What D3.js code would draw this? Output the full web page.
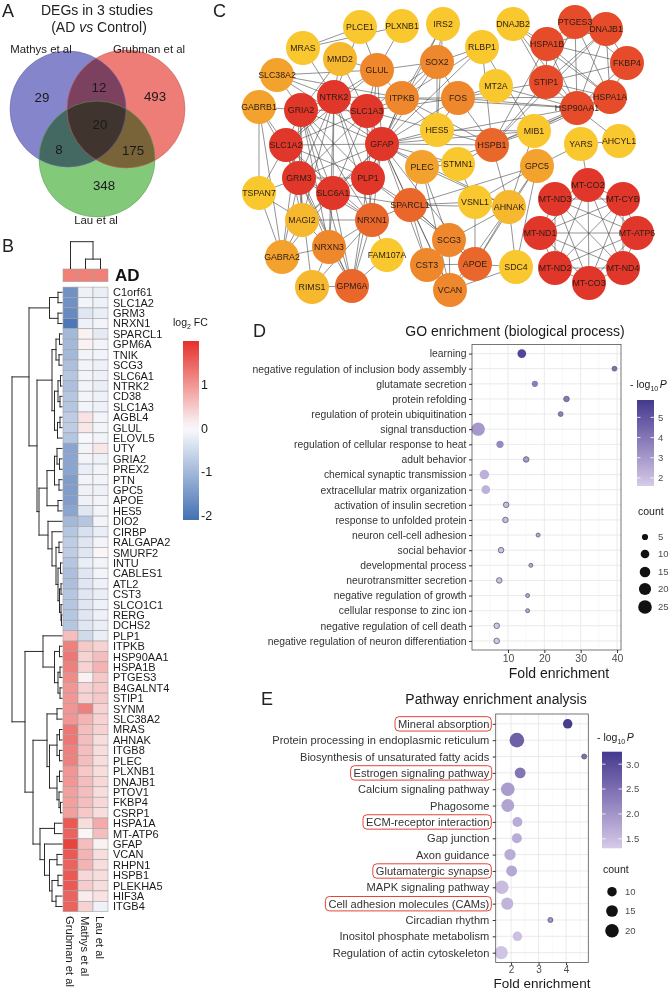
<!DOCTYPE html>
<html>
<head>
<meta charset="utf-8">
<title>DEGs in 3 studies</title>
<script src="https://cdn.jsdelivr.net/npm/d3@7/dist/d3.min.js"></script>
<style>
  body { margin: 0; background: #fff; }
  svg { display: block; }
</style>
</head>
<body>
<script>
// ---------- A: venn ----------
const vennSets = ['Mathys et al', 'Grubman et al', 'Lau et al'];
// M only, M&G, G only, all, M&L, G&L, L only
const vennCounts = [29, 12, 493, 20, 8, 175, 348];

// ---------- B: heatmap ----------
const studies = ['Grubman et al', 'Mathys et al', 'Lau et al'];
const genes = ['C1orf61','SLC1A2','GRM3','NRXN1','SPARCL1','GPM6A','TNIK','SCG3','SLC6A1','NTRK2',
  'CD38','SLC1A3','AGBL4','GLUL','ELOVL5','UTY','GRIA2','PREX2','PTN','GPC5','APOE','HES5','DIO2',
  'CIRBP','RALGAPA2','SMURF2','INTU','CABLES1','ATL2','CST3','SLCO1C1','RERG','DCHS2','PLP1','ITPKB',
  'HSP90AA1','HSPA1B','PTGES3','B4GALNT4','STIP1','SYNM','SLC38A2','MRAS','AHNAK','ITGB8','PLEC',
  'PLXNB1','DNAJB1','PTOV1','FKBP4','CSRP1','HSPA1A','MT-ATP6','GFAP','VCAN','RHPN1','HSPB1',
  'PLEKHA5','HIF3A','ITGB4'];
const grubmanFC = [-1.6,-1.6,-1.7,-2.0,-1.0,-1.0,-1.0,-0.9,-0.8,-0.9,-0.8,-0.8,-0.7,-0.7,-0.8,
  -1.3,-1.3,-1.3,-1.4,-1.4,-1.4,-1.3,-1.0,-0.8,-0.7,-0.7,-0.8,-0.9,-0.9,-0.8,-0.8,-0.8,-0.8,
  0.6,1.2,1.3,1.2,1.1,1.0,1.0,1.0,1.0,1.3,1.3,1.2,1.2,1.0,1.0,0.9,0.9,0.9,
  1.6,1.5,1.8,1.6,1.5,1.6,1.6,1.5,1.5];
const mathysFC = [-0.15,-0.1,-0.3,-0.15,0.1,0.1,-0.1,-0.1,-0.1,-0.1,-0.1,-0.1,0.25,0.2,-0.05,
  -0.1,-0.1,-0.2,-0.1,-0.15,-0.15,-0.3,-0.8,-0.4,-0.3,-0.3,-0.2,-0.3,-0.3,-0.3,-0.3,-0.3,-0.3,
  -0.5,0.5,0.4,0.4,0.1,0.4,0.4,1.2,0.7,0.6,0.6,0.6,0.6,0.5,0.6,0.6,0.6,0.5,
  0.3,0.05,0.6,0.7,0.7,0.35,0.45,0.15,0.4];
const lauFC = [-0.2,-0.15,-0.2,-0.1,-0.25,-0.1,-0.1,-0.15,-0.15,-0.2,-0.15,-0.15,-0.1,-0.1,-0.1,
  0.2,-0.15,-0.1,-0.1,-0.15,-0.1,-0.1,-0.1,-0.2,-0.1,0.05,-0.1,-0.1,-0.15,-0.2,-0.15,-0.15,-0.2,
  -0.2,0.4,0.6,0.7,0.5,0.5,0.5,0.4,0.4,0.4,0.3,0.3,0.3,0.3,0.35,0.3,0.35,0.3,
  0.8,0.6,0.1,0.3,0.3,0.3,0.3,0.25,-0.15];
const fcTicks = [1, 0, -1, -2];

// clustering trees: node = n(height, left, right), leaves are row / column indices
const n = (h, a, b) => ({ h, kids: [a, b] });
const rowTree = n(1.0,
  n(0.66,
    n(0.25, n(0.08, 0, 1), n(0.08, 2, 3)),
    n(0.5,
      n(0.2, n(0.12, n(0.05, 4, 5), n(0.06, 6, 7)),
             n(0.15, n(0.08, n(0.03, 8, 9), n(0.04, 10, 11)), n(0.09, n(0.04, 12, 13), 14))),
      n(0.46,
        n(0.3, n(0.15, n(0.1, 15, n(0.05, 16, 17)), n(0.06, 18, 19)), n(0.08, 20, 21)),
        n(0.28, 22, n(0.2, 23, n(0.12, n(0.06, 24, 25),
          n(0.08, n(0.03, 26, 27), n(0.05, n(0.02, 28, 29), n(0.02, 30, n(0.01, 31, 32)))))))))),
  n(0.74,
    n(0.38, 33, n(0.15, n(0.05, 34, 35), n(0.08, n(0.04, 36, 37), n(0.04, 38, 39)))),
    n(0.58,
      n(0.3, n(0.1, 40, 41), n(0.25, n(0.1, n(0.05, 42, 43), n(0.05, 44, 45)),
                                     n(0.1, n(0.05, 46, 47), n(0.06, 48, n(0.03, 49, 50))))),
      n(0.44, n(0.15, 51, 52), n(0.35, 53, n(0.25, n(0.1, 54, 55), n(0.2, n(0.08, 56, 57), n(0.12, 58, 59))))))));
const colTree = n(1.0, 0, n(0.35, 1, 2));

// ---------- C: network ----------
const netNodes = ['PLCE1','PLXNB1','IRS2','DNAJB2','PTGES3','DNAJB1','MRAS','MMD2','GLUL','SOX2',
  'RLBP1','HSPA1B','FKBP4','SLC38A2','NTRK2','ITPKB','FOS','MT2A','STIP1','HSPA1A','HSP90AA1',
  'GABRB1','GRIA2','SLC1A3','HES5','MIB1','YARS','AHCYL1','SLC1A2','GFAP','HSPB1','PLEC','STMN1',
  'GPC5','GRM3','PLP1','SLC6A1','TSPAN7','MT-CO2','MT-ND3','MT-CYB','SPARCL1','VSNL1','AHNAK',
  'MAGI2','NRXN1','MT-ND1','MT-ATP6','SCG3','NRXN3','FAM107A','GABRA2','CST3','APOE','SDC4',
  'MT-ND2','MT-ND4','MT-CO3','RIMS1','GPM6A','VCAN'];
// layout coordinates (network editor units)
const netLayoutX = [130,172,213,283,345,376,73,110,147,207,252,317,397,47,104,172,228,266,316,380,347,
  29,71,137,207,304,351,389,56,152,262,192,228,307,69,138,103,29,358,325,393,180,245,279,72,142,310,
  407,219,99,157,52,197,245,286,325,393,359,82,122,220];
const netLayoutY = [27,26,24,24,22,29,48,59,70,62,47,44,63,75,97,98,98,86,82,97,108,107,110,111,130,131,
  144,141,145,144,145,167,164,166,178,178,193,193,185,199,199,205,202,207,220,220,233,233,240,247,255,
  257,265,264,267,268,268,283,287,286,290];
// hub ranking class (0 = top hub)
const netRank = [6,6,6,6,1,1,6,5,3,3,6,1,1,4,0,3,3,6,1,1,1,4,0,0,6,6,6,6,0,0,2,4,6,4,0,0,0,6,0,0,0,
  2,6,5,5,2,0,0,3,3,6,4,3,2,6,0,0,0,5,2,3];
const mtGenes = ['MT-CO2','MT-CYB','MT-ATP6','MT-ND4','MT-CO3','MT-ND2','MT-ND1','MT-ND3'];
const netLinks = [
  ['GFAP', ['GRIA2','NTRK2','SLC1A3','SLC1A2','GRM3','SLC6A1','PLP1','GLUL','ITPKB','SOX2','HES5','HSPB1',
            'PLEC','SPARCL1','NRXN1','STMN1','FOS','MMD2','SLC38A2','AHNAK','APOE','CST3','VCAN','MIB1',
            'HSP90AA1','RLBP1','IRS2','GPM6A','MAGI2']],
  ['GRIA2', ['NTRK2','SLC1A3','SLC1A2','GRM3','SLC6A1','PLP1','GABRB1','SLC38A2','MAGI2','NRXN1','NRXN3','GABRA2','GPM6A','MMD2']],
  ['NTRK2', ['SLC1A3','SLC1A2','GRM3','SLC6A1','PLP1','MMD2','GLUL','SLC38A2','ITPKB','MRAS','PLCE1','NRXN1','NRXN3','MAGI2']],
  ['SLC1A3', ['SLC1A2','GRM3','SLC6A1','PLP1','GLUL','ITPKB','SOX2','FOS','HES5']],
  ['SLC1A2', ['GRM3','SLC6A1','PLP1','GABRB1','TSPAN7','GLUL','MAGI2','NRXN1','GPM6A']],
  ['GRM3', ['SLC6A1','PLP1','MAGI2','GABRA2','NRXN1','NRXN3','RIMS1','GPM6A','TSPAN7','GABRB1']],
  ['SLC6A1', ['PLP1','NRXN1','GPM6A','SPARCL1','NRXN3','MAGI2','GABRA2']],
  ['PLP1', ['NRXN1','GPM6A','SPARCL1','SCG3','ITPKB','GLUL']],
  ['GLUL', ['PLXNB1','PLCE1','MMD2','ITPKB','SOX2','SLC38A2']],
  ['MRAS', ['PLCE1','PLXNB1']],
  ['IRS2', ['ITPKB','SOX2','HES5']],
  ['SOX2', ['RLBP1','ITPKB','HES5','FOS']],
  ['RLBP1', ['ITPKB','HSPB1','MIB1']],
  ['FOS', ['MT2A','ITPKB','HSP90AA1','HSPA1A','HSPB1','STIP1','HES5']],
  ['ITPKB', ['HSP90AA1','HSPB1','HES5','SLC38A2']],
  ['HES5', ['MIB1','HSPB1']],
  ['HSPB1', ['HSP90AA1','HSPA1B','STIP1','HSPA1A','MIB1','DNAJB1','STMN1','AHNAK','PLEC']],
  ['MIB1', ['HSP90AA1','AHNAK','HSPA1A']],
  ['HSPA1B', ['PTGES3','DNAJB1','FKBP4','STIP1','HSP90AA1','HSPA1A','DNAJB2']],
  ['PTGES3', ['DNAJB1','FKBP4','STIP1','HSP90AA1','HSPA1A']],
  ['DNAJB1', ['FKBP4','STIP1','HSP90AA1','HSPA1A']],
  ['FKBP4', ['STIP1','HSP90AA1','HSPA1A']],
  ['STIP1', ['HSP90AA1','HSPA1A','DNAJB2']],
  ['HSP90AA1', ['HSPA1A','DNAJB2','AHCYL1','MT2A']],
  ['HSPA1A', ['DNAJB2']],
  ['YARS', ['AHCYL1','GPC5','MT-CO2']],
  ['GPC5', ['AHNAK','SDC4','APOE','VSNL1']],
  ['PLEC', ['STMN1','AHNAK','SCG3','VCAN','SPARCL1']],
  ['SPARCL1', ['NRXN1','SCG3','CST3','APOE','VCAN','AHNAK','GPC5']],
  ['VSNL1', ['APOE','SPARCL1','STMN1']],
  ['AHNAK', ['APOE','VCAN','SCG3','SDC4']],
  ['SCG3', ['CST3','APOE','VCAN']],
  ['CST3', ['APOE','VCAN']],
  ['APOE', ['VCAN','SDC4']],
  ['SDC4', ['VCAN']],
  ['NRXN1', ['MAGI2','NRXN3','GPM6A','FAM107A','RIMS1']],
  ['NRXN3', ['MAGI2','GABRA2','RIMS1','GPM6A']],
  ['MAGI2', ['GABRA2','TSPAN7']],
  ['GABRA2', ['TSPAN7','GABRB1']],
  ['GPM6A', ['RIMS1','FAM107A']],
  ['TSPAN7', ['GABRB1']]
];

// ---------- D: GO enrichment ----------
const goTerms = ['learning','negative regulation of inclusion body assembly','glutamate secretion',
  'protein refolding','regulation of protein ubiquitination','signal transduction',
  'regulation of cellular response to heat','adult behavior','chemical synaptic transmission',
  'extracellular matrix organization','activation of insulin secretion','response to unfolded protein',
  'neuron cell-cell adhesion','social behavior','developmental process','neurotransmitter secretion',
  'negative regulation of growth','cellular response to zinc ion','negative regulation of cell death',
  'negative regulation of neuron differentiation'];
const goFold  = [13.8, 39.3, 17.4, 26.1, 24.5, 1.8, 7.8, 15.0, 3.5, 3.9, 9.5, 9.3, 18.3, 8.1, 16.3, 7.6, 15.4, 15.4, 6.9, 6.9];
const goCount = [10, 3, 5, 4, 3, 24, 7, 4, 12, 10, 4, 4, 2, 4, 2, 4, 2, 2, 4, 4];
const goLogP  = [5.5, 4.2, 3.8, 3.9, 3.7, 3.0, 3.4, 3.0, 2.3, 2.3, 2.0, 2.0, 2.6, 1.9, 2.6, 1.9, 2.6, 2.6, 1.7, 1.7];
const goCountKeys = [5, 10, 15, 20, 25];
const goPTicks = [2, 3, 4, 5];

// ---------- E: pathway enrichment ----------
const keggTerms = ['Mineral absorption','Protein processing in endoplasmic reticulum',
  'Biosynthesis of unsaturated fatty acids','Estrogen signaling pathway','Calcium signaling pathway',
  'Phagosome','ECM-receptor interaction','Gap junction','Axon guidance','Glutamatergic synapse',
  'MAPK signaling pathway','Cell adhesion molecules (CAMs)','Circadian rhythm',
  'Inositol phosphate metabolism','Regulation of actin cytoskeleton'];
const keggFold  = [4.06, 2.21, 4.66, 2.33, 1.88, 1.88, 2.23, 2.21, 1.96, 2.02, 1.66, 1.86, 3.43, 2.23, 1.64];
const keggCount = [10, 23, 3, 13, 20, 18, 11, 11, 14, 13, 20, 16, 3, 10, 19];
const keggLogP  = [3.2, 2.7, 2.5, 2.4, 1.9, 1.8, 1.7, 1.7, 1.7, 1.75, 1.5, 1.6, 2.0, 1.45, 1.4];
const keggBoxed = ['Mineral absorption','Estrogen signaling pathway','ECM-receptor interaction',
  'Glutamatergic synapse','Cell adhesion molecules (CAMs)'];
const keggCountKeys = [10, 15, 20];
const keggPTicks = [1.5, 2.0, 2.5, 3.0];

// =====================================================================
const FONT = '"Liberation Sans", Arial, Helvetica, sans-serif';
const svg = d3.select('body').append('svg')
  .attr('width', 671).attr('height', 991)
  .style('font-family', FONT);
svg.append('rect').attr('width', 671).attr('height', 991).attr('fill', '#fff');
const defs = svg.append('defs');

// panel letters
const letters = [['A', 2, 17], ['B', 2, 252], ['C', 213, 17], ['D', 253, 337], ['E', 261, 705]];
svg.selectAll('text.letter').data(letters).join('text').attr('class', 'letter')
  .attr('x', d => d[1]).attr('y', d => d[2]).attr('font-size', 18).attr('fill', '#222').text(d => d[0]);

// ---------------- A ----------------
const gA = svg.append('g');
gA.append('text').attr('x', 97).attr('y', 15).attr('text-anchor', 'middle').attr('font-size', 14)
  .attr('fill', '#222').text('DEGs in 3 studies');
const sub = gA.append('text').attr('x', 99).attr('y', 32).attr('text-anchor', 'middle')
  .attr('font-size', 14).attr('fill', '#222');
sub.append('tspan').text('(AD ');
sub.append('tspan').attr('font-style', 'italic').text('vs');
sub.append('tspan').text(' Control)');

const vennGeom = [
  { cx: 68, cy: 109, r: 58, fill: '#8585cc', stroke: '#6565a8', lx: 41, ly: 53 },
  { cx: 126, cy: 109, r: 59, fill: '#ee7d77', stroke: '#c8605a', lx: 149, ly: 53 },
  { cx: 97, cy: 159, r: 58, fill: '#82c97a', stroke: '#5ea056', lx: 96, ly: 224 }
];
gA.selectAll('circle.fill').data(vennGeom).join('circle').attr('class', 'fill')
  .attr('cx', d => d.cx).attr('cy', d => d.cy).attr('r', d => d.r)
  .attr('fill', d => d.fill).style('mix-blend-mode', 'multiply');
gA.selectAll('circle.edge').data(vennGeom).join('circle').attr('class', 'edge')
  .attr('cx', d => d.cx).attr('cy', d => d.cy).attr('r', d => d.r)
  .attr('fill', 'none').attr('stroke', d => d.stroke).attr('stroke-width', 0.8).attr('opacity', 0.7);
gA.selectAll('text.set').data(vennSets).join('text').attr('class', 'set')
  .attr('x', (d, i) => vennGeom[i].lx).attr('y', (d, i) => vennGeom[i].ly)
  .attr('text-anchor', 'middle').attr('font-size', 11.4).attr('fill', '#222').text(d => d);
const vennLabelPos = [[42, 102], [99, 92], [155, 101], [100, 129], [59, 154], [133, 155], [104, 190]];
gA.selectAll('text.count').data(vennCounts).join('text').attr('class', 'count')
  .attr('x', (d, i) => vennLabelPos[i][0]).attr('y', (d, i) => vennLabelPos[i][1])
  .attr('text-anchor', 'middle').attr('font-size', 13.3).attr('fill', '#1a1a1a').text(d => d);

// ---------------- B ----------------
const gB = svg.append('g');
const hmX = d3.scaleBand().domain(studies).range([63, 108]);
const hmY = d3.scaleBand().domain(genes).range([287.1, 911.7]);
const fcColor = d3.scaleLinear().domain([-2.1, 0, 2.0]).range(['#4470b2', '#fbfbfd', '#e6302a']);
const fcBySt = [grubmanFC, mathysFC, lauFC];
const cells = [];
genes.forEach((g, i) => studies.forEach((s, j) => cells.push({ g, s, v: fcBySt[j][i] })));
gB.selectAll('rect.cell').data(cells).join('rect').attr('class', 'cell')
  .attr('x', d => hmX(d.s)).attr('y', d => hmY(d.g))
  .attr('width', hmX.bandwidth()).attr('height', hmY.bandwidth())
  .attr('fill', d => fcColor(d.v)).attr('stroke', '#a3a3a3').attr('stroke-width', 0.6);
// annotation bar
gB.selectAll('rect.ann').data(studies).join('rect').attr('class', 'ann')
  .attr('x', d => hmX(d)).attr('y', 269).attr('width', hmX.bandwidth()).attr('height', 12.7)
  .attr('fill', '#f08078').attr('stroke', '#a3a3a3').attr('stroke-width', 0.6);
gB.append('text').attr('x', 115).attr('y', 281).attr('font-size', 17).attr('font-weight', 'bold')
  .attr('fill', '#111').text('AD');
gB.selectAll('text.gene').data(genes).join('text').attr('class', 'gene')
  .attr('x', 113).attr('y', d => hmY(d) + hmY.bandwidth() / 2).attr('dy', '0.36em')
  .attr('font-size', 11).attr('fill', '#1a1a1a').text(d => d);
gB.selectAll('text.study').data(studies).join('text').attr('class', 'study')
  .attr('transform', d => `translate(${hmX(d) + hmX.bandwidth() / 2},916) rotate(90)`)
  .attr('dy', '0.36em').attr('font-size', 11.2).attr('fill', '#1a1a1a').text(d => d);

// dendrograms
const treeLines = [];
const rowX = d3.scaleLinear().domain([0, 1]).range([62, 12]);
function rowTreeWalk(node) {
  if (typeof node === 'number') return hmY(genes[node]) + hmY.bandwidth() / 2;
  const ys = node.kids.map(rowTreeWalk);
  const px = rowX(node.h);
  node.kids.forEach((k, i) => {
    const cx = typeof k === 'number' ? rowX(0) : rowX(k.h);
    treeLines.push([cx, ys[i], px, ys[i]]);
  });
  treeLines.push([px, ys[0], px, ys[1]]);
  return (ys[0] + ys[1]) / 2;
}
rowTreeWalk(rowTree);
const colY = d3.scaleLinear().domain([0, 1]).range([268.5, 241.7]);
function colTreeWalk(node) {
  if (typeof node === 'number') return hmX(studies[node]) + hmX.bandwidth() / 2;
  const xs = node.kids.map(colTreeWalk);
  const py = colY(node.h);
  node.kids.forEach((k, i) => {
    const cy = typeof k === 'number' ? colY(0) : colY(k.h);
    treeLines.push([xs[i], cy, xs[i], py]);
  });
  treeLines.push([xs[0], py, xs[1], py]);
  return (xs[0] + xs[1]) / 2;
}
colTreeWalk(colTree);
gB.selectAll('line.tree').data(treeLines).join('line').attr('class', 'tree')
  .attr('x1', d => d[0]).attr('y1', d => d[1]).attr('x2', d => d[2]).attr('y2', d => d[3])
  .attr('stroke', '#2a2a2a').attr('stroke-width', 1).attr('stroke-linecap', 'square');

// log2 FC legend
const fcLegY = d3.scaleLinear().domain([-2.1, 2.0]).range([520, 341]);
const fcGrad = defs.append('linearGradient').attr('id', 'fcgrad')
  .attr('x1', 0).attr('y1', 1).attr('x2', 0).attr('y2', 0);
d3.range(0, 1.0001, 0.05).forEach(t => fcGrad.append('stop').attr('offset', t)
  .attr('stop-color', fcColor(-2.1 + t * 4.1)));
gB.append('rect').attr('x', 183).attr('y', 341).attr('width', 16).attr('height', 179)
  .attr('fill', 'url(#fcgrad)');
const fcT = gB.append('text').attr('x', 173).attr('y', 326).attr('font-size', 10.5).attr('fill', '#1a1a1a');
fcT.append('tspan').text('log');
fcT.append('tspan').attr('font-size', 7).attr('dy', 2.5).text('2');
fcT.append('tspan').attr('dy', -2.5).text(' FC');
gB.selectAll('text.fct').data(fcTicks).join('text').attr('class', 'fct')
  .attr('x', 201).attr('y', d => fcLegY(d)).attr('dy', '0.36em')
  .attr('font-size', 12.5).attr('fill', '#1a1a1a').text(d => d);

// ---------------- C ----------------
const gC = svg.append('g');
const netX = d3.scaleLinear().domain([0, 441]).range([230, 671]);
const netY = d3.scaleLinear().domain([0, 310]).range([0, 310]);
const rankColor = ['#e1362a', '#e64c2a', '#ea672b', '#ef882c', '#f3a32d', '#f6b82e', '#f9c72e'];
const nodeIdx = new Map(netNodes.map((d, i) => [d, i]));
const edgeSet = new Set();
const edges = [];
function addEdge(a, b) {
  const k = [a, b].sort().join('|');
  if (edgeSet.has(k)) return;
  edgeSet.add(k);
  edges.push([nodeIdx.get(a), nodeIdx.get(b)]);
}
netLinks.forEach(([s, ts]) => ts.forEach(t => addEdge(s, t)));
mtGenes.forEach((a, i) => mtGenes.slice(i + 1).forEach(b => addEdge(a, b)));
gC.selectAll('line.edge').data(edges).join('line').attr('class', 'edge')
  .attr('x1', d => netX(netLayoutX[d[0]])).attr('y1', d => netY(netLayoutY[d[0]]))
  .attr('x2', d => netX(netLayoutX[d[1]])).attr('y2', d => netY(netLayoutY[d[1]]))
  .attr('stroke', '#4a4a4a').attr('stroke-width', 0.6);
gC.selectAll('circle.node').data(netNodes).join('circle').attr('class', 'node')
  .attr('cx', (d, i) => netX(netLayoutX[i])).attr('cy', (d, i) => netY(netLayoutY[i]))
  .attr('r', 17).attr('fill', (d, i) => rankColor[netRank[i]]);
gC.selectAll('text.node').data(netNodes).join('text').attr('class', 'node')
  .attr('x', (d, i) => netX(netLayoutX[i])).attr('y', (d, i) => netY(netLayoutY[i]))
  .attr('dy', '0.36em').attr('text-anchor', 'middle').attr('font-size', 8.8)
  .attr('fill', '#2b1d14').text(d => d);

// ---------------- D & E ----------------
const lowC = '#d6cbe8', highC = '#433a8e';
function dotPlot(o) {
  const g = svg.append('g');
  const x = d3.scaleLinear().domain(o.xDomain).range([o.left, o.right]);
  const y = d3.scalePoint().domain(o.terms).range([o.top, o.bottom]).padding(0.6);
  const col = d3.scaleLinear().domain(o.cDomain).range([lowC, highC]).interpolate(d3.interpolateLab);
  const size = d3.scaleSqrt().domain(o.sDomain).range(o.sRange);

  g.selectAll('line.minor').data(o.minor).join('line').attr('class', 'minor')
    .attr('x1', d => x(d)).attr('x2', d => x(d)).attr('y1', o.top).attr('y2', o.bottom)
    .attr('stroke', '#f3f3f3').attr('stroke-width', 0.6);
  g.selectAll('line.major').data(o.major).join('line').attr('class', 'major')
    .attr('x1', d => x(d)).attr('x2', d => x(d)).attr('y1', o.top).attr('y2', o.bottom)
    .attr('stroke', '#e8e8e8').attr('stroke-width', 0.9);
  g.selectAll('line.hgrid').data(o.terms).join('line').attr('class', 'hgrid')
    .attr('x1', o.left).attr('x2', o.right).attr('y1', d => y(d)).attr('y2', d => y(d))
    .attr('stroke', '#e8e8e8').attr('stroke-width', 0.9);

  const pts = o.terms.map((t, i) => ({ t, f: o.fold[i], c: o.count[i], p: o.logP[i] }));
  g.selectAll('circle.pt').data(pts).join('circle').attr('class', 'pt')
    .attr('cx', d => x(d.f)).attr('cy', d => y(d.t)).attr('r', d => size(d.c))
    .attr('fill', d => col(d.p))
    .attr('stroke', d => size(d.c) < 3 ? '#5d5a70' : 'none').attr('stroke-width', 0.8);

  g.append('rect').attr('x', o.left).attr('y', o.top)
    .attr('width', o.right - o.left).attr('height', o.bottom - o.top)
    .attr('fill', 'none').attr('stroke', '#555').attr('stroke-width', 0.8);

  const ax = g.append('g').attr('transform', `translate(0,${o.bottom})`)
    .call(d3.axisBottom(x).tickValues(o.major).tickSize(o.xTick).tickPadding(o.xPad).tickFormat(d3.format('d')));
  ax.select('.domain').remove();
  ax.attr('font-family', FONT).attr('font-size', o.xFont);
  ax.selectAll('line').attr('stroke', '#333');
  ax.selectAll('text').attr('fill', '#4d4d4d');

  const ay = g.append('g').attr('transform', `translate(${o.left},0)`)
    .call(d3.axisLeft(y).tickSize(3).tickPadding(o.yPad));
  ay.select('.domain').remove();
  ay.attr('font-family', FONT).attr('font-size', o.yFont);
  ay.selectAll('line').attr('stroke', '#333');
  ay.selectAll('text').attr('fill', '#333');
  if (o.boxed) {
    ay.selectAll('.tick').each(function (d) {
      if (!o.boxed.includes(d)) return;
      const bb = d3.select(this).select('text').node().getBBox();
      d3.select(this).insert('rect', 'text')
        .attr('x', bb.x - 3).attr('y', bb.y - 1.2).attr('width', bb.width + 5).attr('height', bb.height + 2.4)
        .attr('rx', 4).attr('fill', 'none').attr('stroke', '#e2453a').attr('stroke-width', 1);
    });
  }

  g.append('text').attr('x', o.titleX).attr('y', o.titleY).attr('text-anchor', 'middle')
    .attr('font-size', 14).attr('fill', '#1a1a1a').text(o.title);
  g.append('text').attr('x', o.xTitleX).attr('y', o.xTitleY).attr('text-anchor', 'middle')
    .attr('font-size', o.xTitleFont).attr('fill', '#1a1a1a').text('Fold enrichment');

  // colour legend
  const lt = g.append('text').attr('x', o.legX).attr('y', o.legY).attr('font-size', 10.5).attr('fill', '#1a1a1a');
  lt.append('tspan').text('- log');
  lt.append('tspan').attr('font-size', 7).attr('dy', 3).text('10');
  lt.append('tspan').attr('dy', -3).attr('dx', 1.5).attr('font-style', 'italic').text('P');
  const gid = o.id + 'grad';
  const grad = defs.append('linearGradient').attr('id', gid)
    .attr('x1', 0).attr('y1', 1).attr('x2', 0).attr('y2', 0);
  d3.range(0, 1.0001, 0.1).forEach(t => grad.append('stop').attr('offset', t)
    .attr('stop-color', col(o.cDomain[0] + t * (o.cDomain[1] - o.cDomain[0]))));
  const cb = o.cb;
  g.append('rect').attr('x', cb.x).attr('y', cb.top).attr('width', cb.w).attr('height', cb.bottom - cb.top)
    .attr('fill', `url(#${gid})`);
  const cbY = d3.scaleLinear().domain(o.cDomain).range([cb.bottom, cb.top]);
  o.pTicks.forEach(v => {
    [cb.x, cb.x + cb.w - 3.5].forEach(x0 => g.append('line')
      .attr('x1', x0).attr('x2', x0 + 3.5).attr('y1', cbY(v)).attr('y2', cbY(v))
      .attr('stroke', '#fff').attr('stroke-width', 0.8));
  });
  g.selectAll('text.ptick').data(o.pTicks).join('text').attr('class', 'ptick')
    .attr('x', cb.x + cb.w + 4).attr('y', d => cbY(d)).attr('dy', '0.36em')
    .attr('font-size', 9.5).attr('fill', '#4d4d4d').text(d => o.pFmt(d));

  // size legend
  g.append('text').attr('x', o.cntX).attr('y', o.cntY).attr('font-size', 10.5).attr('fill', '#1a1a1a').text('count');
  g.selectAll('circle.key').data(o.countKeys).join('circle').attr('class', 'key')
    .attr('cx', o.keyX).attr('cy', (d, i) => o.keyYs[i]).attr('r', d => size(d)).attr('fill', '#111');
  g.selectAll('text.key').data(o.countKeys).join('text').attr('class', 'key')
    .attr('x', o.keyX + 13).attr('y', (d, i) => o.keyYs[i]).attr('dy', '0.36em')
    .attr('font-size', 9.5).attr('fill', '#4d4d4d').text(d => d);
}

dotPlot({
  id: 'go', terms: goTerms, fold: goFold, count: goCount, logP: goLogP,
  left: 472, right: 621, top: 344.5, bottom: 650, xDomain: [0.1, 41.1],
  major: [10, 20, 30, 40], minor: [5, 15, 25, 35],
  cDomain: [1.6, 5.86], sDomain: [2, 25], sRange: [2, 6.8],
  yFont: 10.35, yPad: 2.5, xFont: 10.5, xTick: 3, xPad: 2,
  title: 'GO enrichment (biological process)', titleX: 515, titleY: 336,
  xTitleX: 559, xTitleY: 678, xTitleFont: 14,
  legX: 630, legY: 388, cb: { x: 637, w: 17, top: 400, bottom: 486 },
  pTicks: goPTicks, pFmt: d3.format('d'),
  cntX: 638, cntY: 515, countKeys: goCountKeys, keyX: 645, keyYs: [537, 554, 572, 589, 607]
});

dotPlot({
  id: 'kegg', terms: keggTerms, fold: keggFold, count: keggCount, logP: keggLogP, boxed: keggBoxed,
  left: 495.7, right: 588.3, top: 714, bottom: 962.5, xDomain: [1.44, 4.81],
  major: [2, 3, 4], minor: [1.5, 2.5, 3.5, 4.5],
  cDomain: [1.31, 3.25], sDomain: [3, 23], sRange: [2.5, 7.3],
  yFont: 11.1, yPad: 3.4, xFont: 10, xTick: 2.5, xPad: 1,
  title: 'Pathway enrichment analysis', titleX: 496, titleY: 704,
  xTitleX: 542, xTitleY: 988, xTitleFont: 13.5,
  legX: 597, legY: 741, cb: { x: 602, w: 20, top: 751.7, bottom: 848.3 },
  pTicks: keggPTicks, pFmt: d3.format('.1f'),
  cntX: 603, cntY: 873, countKeys: keggCountKeys, keyX: 612, keyYs: [891.7, 911, 930.7]
});
</script>
</body>
</html>
